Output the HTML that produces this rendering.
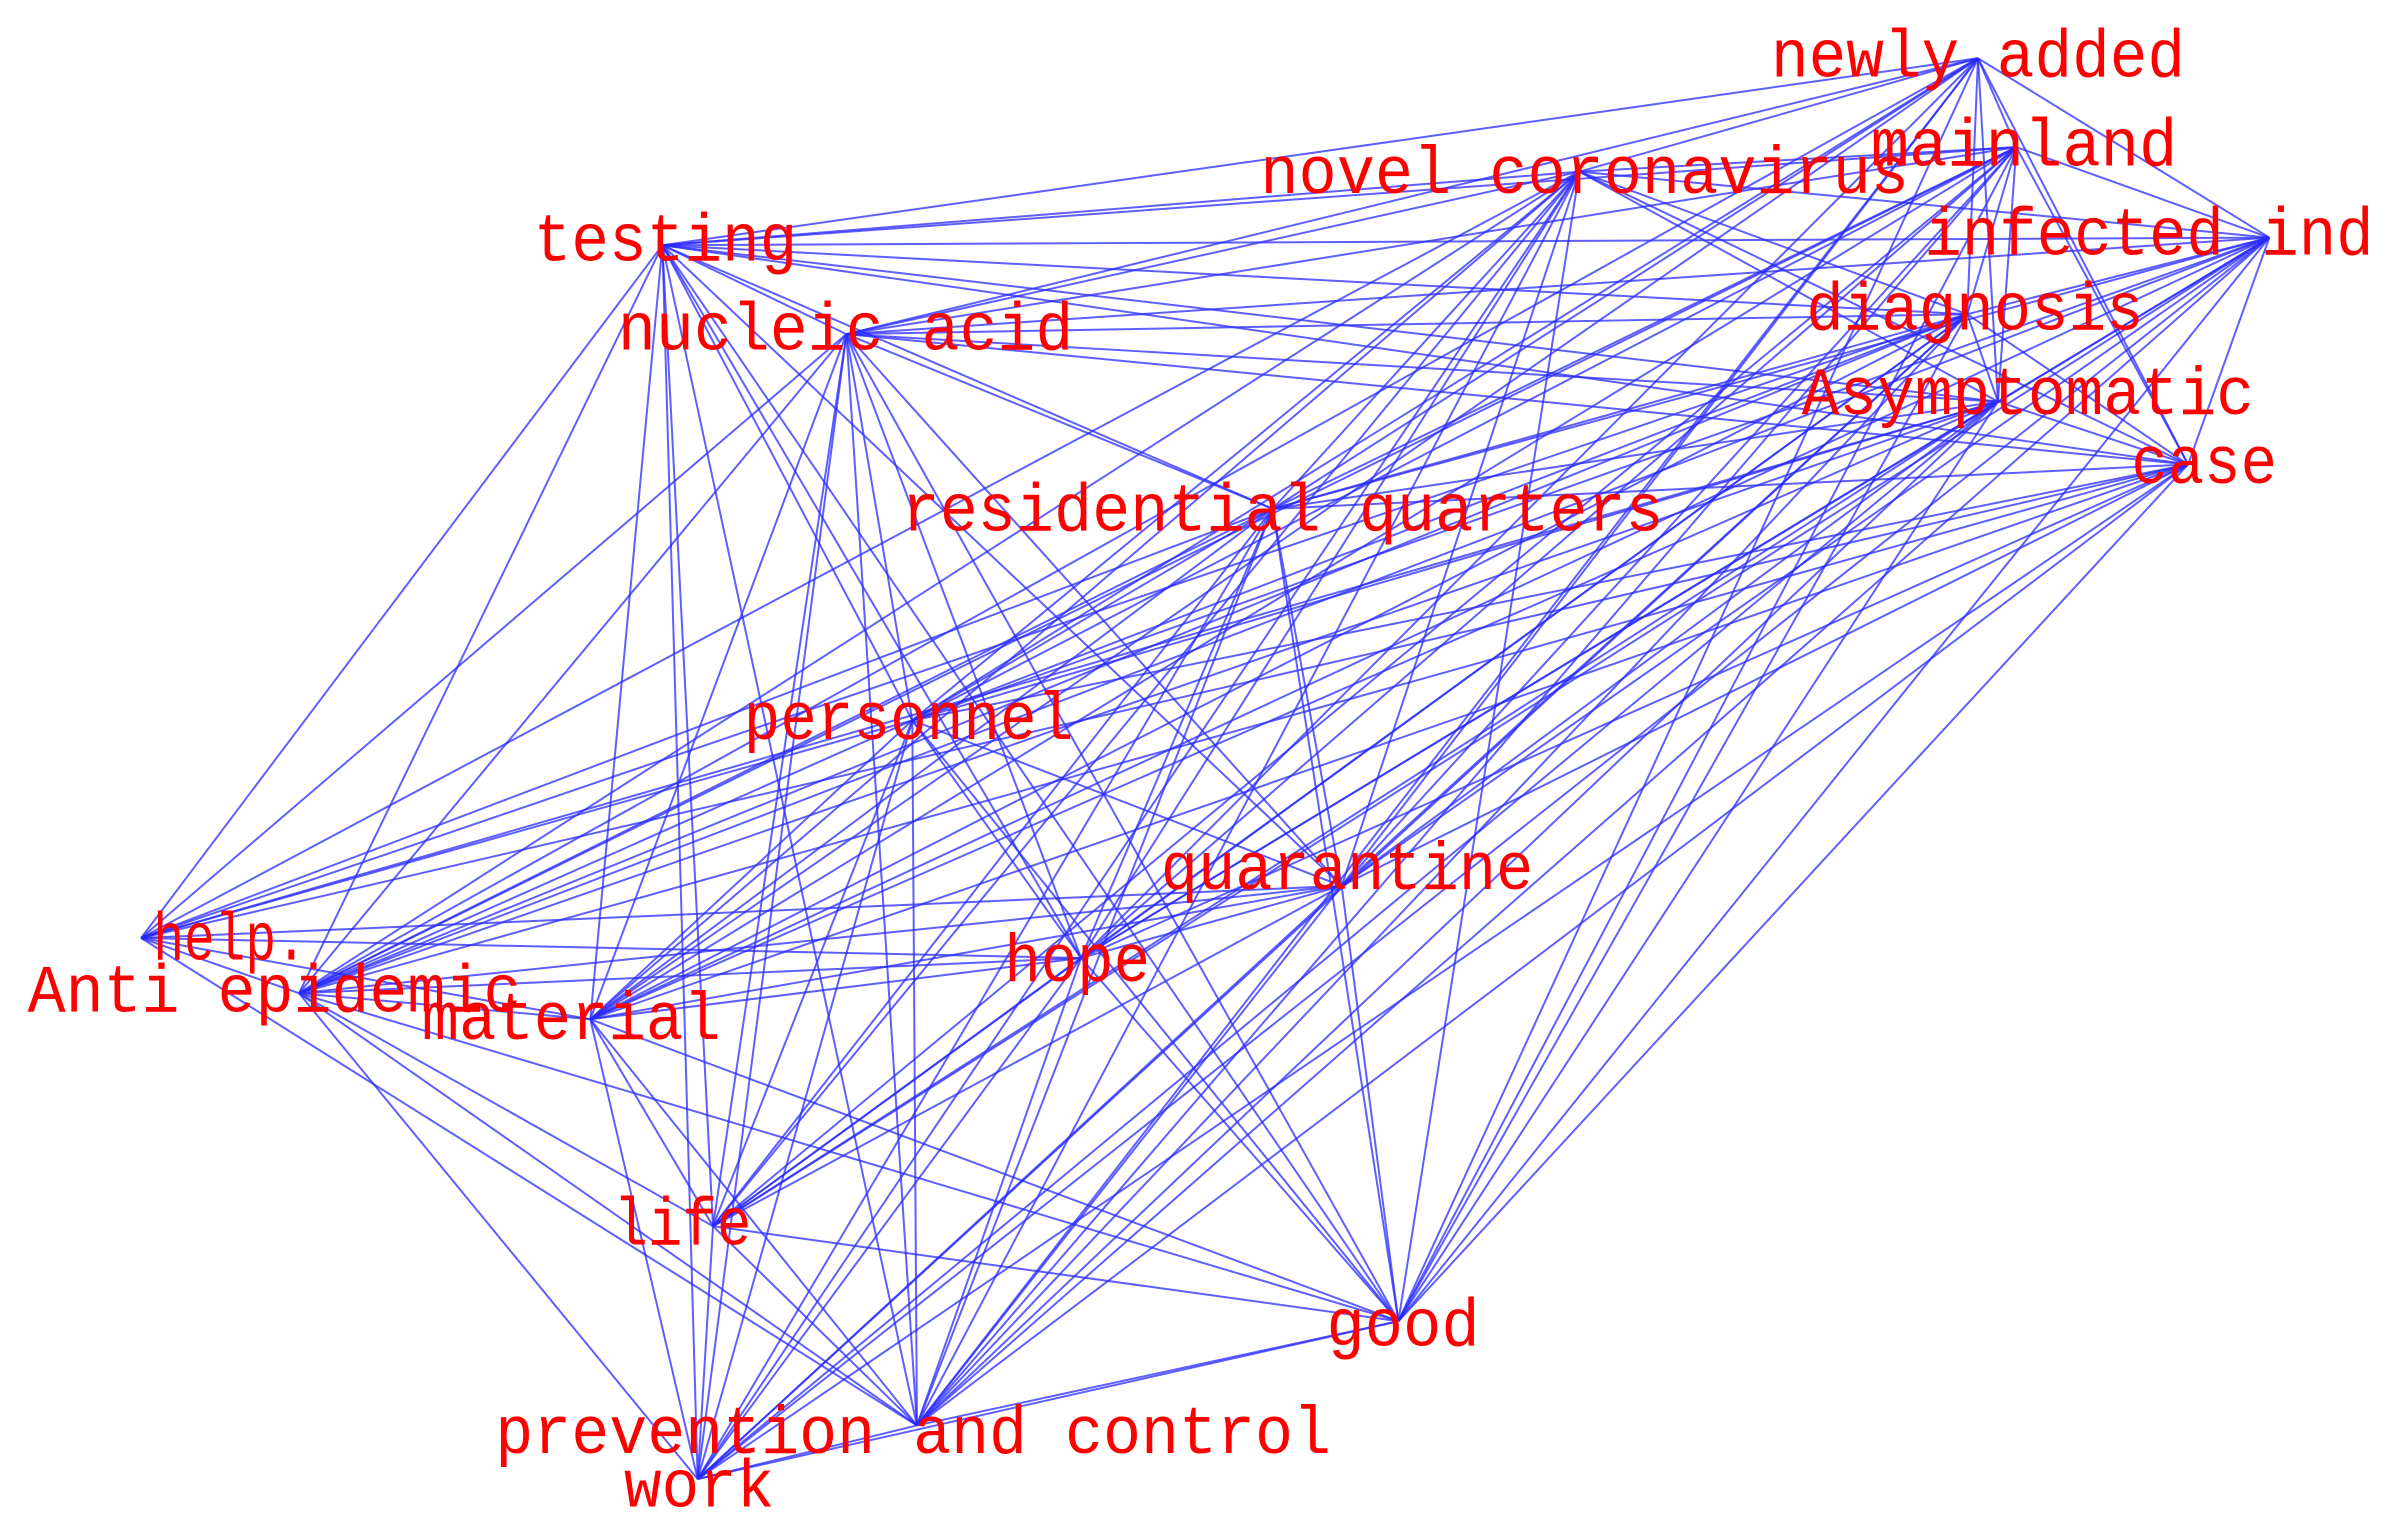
<!DOCTYPE html>
<html><head><meta charset="utf-8"><style>
html,body{margin:0;padding:0;background:#fff;}
svg{display:block;}
text{font-family:"Liberation Mono",monospace;fill:#ff0000;font-size:44px;}
</style></head><body>
<svg id="s" width="2392" height="1522" viewBox="0 0 1560 993" preserveAspectRatio="none" xmlns="http://www.w3.org/2000/svg">
<g id="edges" stroke="#2a2aff" stroke-width="1.3" stroke-opacity="0.75" fill="none"></g>
<g id="labels">
<text x="1155" y="50" textLength="270" lengthAdjust="spacingAndGlyphs">newly added</text>
<text x="1220" y="108" textLength="200" lengthAdjust="spacingAndGlyphs">mainland</text>
<text x="822" y="126" textLength="423" lengthAdjust="spacingAndGlyphs">novel coronavirus</text>
<text x="1255" y="166" textLength="293" lengthAdjust="spacingAndGlyphs">infected ind</text>
<text x="348" y="170" textLength="172" lengthAdjust="spacingAndGlyphs">testing</text>
<text x="1178" y="215" textLength="220" lengthAdjust="spacingAndGlyphs">diagnosis</text>
<text x="403" y="228" textLength="297" lengthAdjust="spacingAndGlyphs">nucleic acid</text>
<text x="1175" y="270" textLength="295" lengthAdjust="spacingAndGlyphs">Asymptomatic</text>
<text x="1390" y="315" textLength="95" lengthAdjust="spacingAndGlyphs">case</text>
<text x="588" y="346" textLength="497" lengthAdjust="spacingAndGlyphs">residential quarters</text>
<text x="485" y="482" textLength="215" lengthAdjust="spacingAndGlyphs">personnel</text>
<text x="757" y="580" textLength="243" lengthAdjust="spacingAndGlyphs">quarantine</text>
<text x="100" y="626" textLength="100" lengthAdjust="spacingAndGlyphs">help.</text>
<text x="655" y="640" textLength="95" lengthAdjust="spacingAndGlyphs">hope</text>
<text x="18" y="660" textLength="322" lengthAdjust="spacingAndGlyphs">Anti epidemic</text>
<text x="275" y="678" textLength="195" lengthAdjust="spacingAndGlyphs">material</text>
<text x="400" y="812" textLength="90" lengthAdjust="spacingAndGlyphs">life</text>
<text x="865" y="878" textLength="100" lengthAdjust="spacingAndGlyphs">good</text>
<text x="323" y="948" textLength="545" lengthAdjust="spacingAndGlyphs">prevention and control</text>
<text x="407" y="983" textLength="98" lengthAdjust="spacingAndGlyphs">work</text>
</g>
</svg>
<script>
var N=[[1290,38],[1315,96],[1030,112],[1480,155],[432,160],[1283,205],[552,218],[1303,262],[1427,303],[830,332],[595,470],[875,578],[92,612],[195,648],[385,665],[705,625],[465,800],[912,862],[598,930],[455,965]];
var g=document.getElementById('edges'),h='';
var skip={'12-19':1,'12-16':1,'0-12':1,'1-12':1,'3-12':1,'0-19':1,'1-19':1,'0-16':1,'8-16':1,'12-17':1};
for(var i=0;i<N.length;i++)for(var j=i+1;j<N.length;j++){
 if(skip[i+'-'+j])continue;
 h+='<line x1="'+N[i][0]+'" y1="'+N[i][1]+'" x2="'+N[j][0]+'" y2="'+N[j][1]+'"/>';
}
g.innerHTML=h;
</script>
</body></html>
